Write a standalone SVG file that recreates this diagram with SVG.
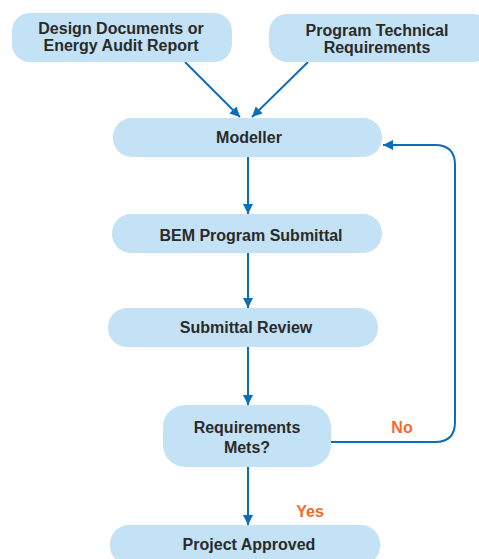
<svg xmlns="http://www.w3.org/2000/svg" width="479" height="559" viewBox="0 0 479 559">
  <style>
    .box { fill: #c3e2f5; }
    .lbl { font-family: "Liberation Sans", Arial, sans-serif; font-weight: bold; font-size: 16px; fill: #2a2a2a; text-anchor: middle; }
    .tag { font-family: "Liberation Sans", Arial, sans-serif; font-weight: bold; font-size: 16px; fill: #f26a2a; text-anchor: middle; }
    .edge { fill: none; stroke: #0d6db6; stroke-width: 2; }
  </style>
  <defs>
    <marker id="arrow" viewBox="0 0 10 10" refX="10" refY="5" markerWidth="5" markerHeight="5" orient="auto" markerUnits="strokeWidth">
      <path d="M0,0 L10,5 L0,10 Z" fill="#0d6db6"/>
    </marker>
  </defs>
  <rect width="479" height="559" fill="#ffffff"/>

  <g id="connectors">
    <line class="edge" x1="185" y1="62" x2="240" y2="117" marker-end="url(#arrow)"/>
    <line class="edge" x1="308" y1="62" x2="252" y2="117" marker-end="url(#arrow)"/>
    <line class="edge" x1="248" y1="157" x2="248" y2="214" marker-end="url(#arrow)"/>
    <line class="edge" x1="248" y1="253" x2="248" y2="308" marker-end="url(#arrow)"/>
    <line class="edge" x1="248" y1="347" x2="248" y2="405" marker-end="url(#arrow)"/>
    <line class="edge" x1="248" y1="467" x2="248" y2="525" marker-end="url(#arrow)"/>
    <path class="edge" d="M331,442 H435 Q455,442 455,422 V165 Q455,145 435,145 H383" marker-end="url(#arrow)"/>
    <text class="tag" x="402" y="433">No</text>
    <text class="tag" x="310" y="517">Yes</text>
  </g>

  <g id="design-documents">
    <rect class="box" x="12" y="13" width="220" height="49" rx="18"/>
    <text class="lbl" x="121" y="34">Design Documents or</text>
    <text class="lbl" x="121" y="51">Energy Audit Report</text>
  </g>

  <g id="program-requirements">
    <rect class="box" x="269" y="14" width="222" height="48" rx="18"/>
    <text class="lbl" x="377" y="36">Program Technical</text>
    <text class="lbl" x="377" y="53">Requirements</text>
  </g>

  <g id="modeller">
    <rect class="box" x="113" y="118" width="269" height="39" rx="19"/>
    <text class="lbl" x="249" y="143">Modeller</text>
  </g>

  <g id="bem-submittal">
    <rect class="box" x="112" y="214" width="270" height="39" rx="19"/>
    <text class="lbl" x="251" y="241">BEM Program Submittal</text>
  </g>

  <g id="submittal-review">
    <rect class="box" x="108" y="308" width="270" height="39" rx="19"/>
    <text class="lbl" x="246" y="333">Submittal Review</text>
  </g>

  <g id="requirements-met">
    <rect class="box" x="163" y="405" width="168" height="62" rx="22"/>
    <text class="lbl" x="247" y="433">Requirements</text>
    <text class="lbl" x="247" y="453">Mets?</text>
  </g>

  <g id="project-approved">
    <rect class="box" x="110" y="525" width="270" height="40" rx="19"/>
    <text class="lbl" x="249" y="550">Project Approved</text>
  </g>
</svg>
